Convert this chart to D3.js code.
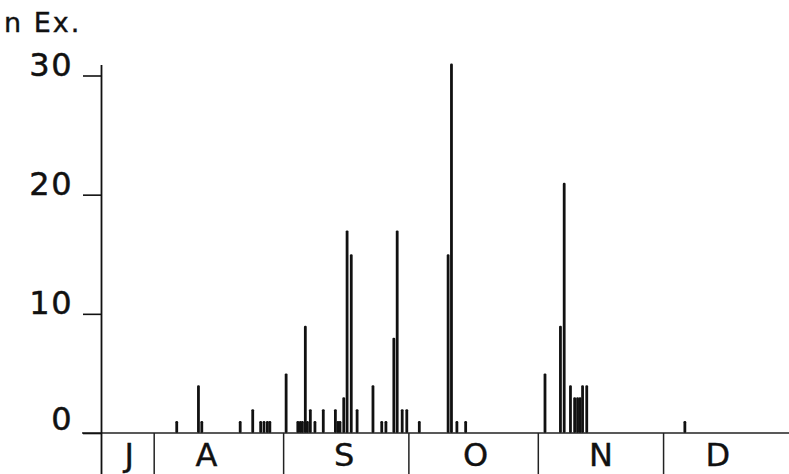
<!DOCTYPE html>
<html>
<head>
<meta charset="utf-8">
<script src="https://cdn.jsdelivr.net/npm/d3@7"></script>
<style>
  body { margin: 0; background: #fff; }
  svg { display: block; }
  text { font-family: "DejaVu Sans", sans-serif; fill: #111; }
</style>
</head>
<body>
<div class="chart"></div>
<script>
// Days counted from 1 July (1 Aug = 31, 1 Sep = 62, ...)
var catchDays = [
  36.4, 41.6, 42.4, 51.6, 54.6, 56.5, 57.3, 58.1, 58.7,
  62.6, 65.4, 66.0, 66.5, 67.2, 67.7, 68.4, 69.5, 71.5,
  74.4, 75.0, 75.5, 76.4, 77.2, 78.2, 79.6,
  83.4, 85.5, 86.5, 88.4, 89.2, 90.4, 91.5,
  94.5, 101.4, 102.2, 103.5, 105.6,
  124.6, 128.3, 129.2, 130.7, 131.7, 132.4, 133.0, 133.6, 134.6,
  158.1
];
var catchCounts = [
  1, 4, 1, 1, 2, 1, 1, 1, 1,
  5, 1, 1, 1, 9, 1, 2, 1, 2,
  2, 1, 1, 3, 17, 15, 2,
  4, 1, 1, 8, 17, 2, 2,
  1, 15, 31, 1, 1,
  5, 9, 21, 4, 3, 3, 3, 4, 4,
  1
];
var monthStarts = [31, 62, 92, 123, 153];
var monthLabels = ["J", "A", "S", "O", "N", "D"];
var monthLabelDays = [25, 43.5, 76.5, 108, 138, 166];
var yTicks = [0, 10, 20, 30];

var svgWidth = 789;
var svgHeight = 474;

var svg = d3.select(".chart")
  .append("svg")
  .attr("width", svgWidth)
  .attr("height", svgHeight);

var xScale = d3.scaleLinear().domain([18.5, 184]).range([102, 793]);
var yScale = d3.scaleLinear().domain([0, 30]).range([433, 75.5]);

var data = catchDays.map((d, i) => ({ day: d, n: catchCounts[i] }));

// bars
svg.append("g").selectAll("rect")
  .data(data)
  .enter()
  .append("rect")
  .attr("x", d => xScale(d.day) - 1.4)
  .attr("y", d => yScale(d.n))
  .attr("width", 2.8)
  .attr("height", d => yScale(0) - yScale(d.n))
  .attr("rx", 1.2)
  .attr("fill", "#111");

// baseline
svg.append("line")
  .attr("x1", 82).attr("x2", svgWidth)
  .attr("y1", yScale(0)).attr("y2", yScale(0))
  .attr("stroke", "#222").attr("stroke-width", 1.6);

// y axis
var leftAxis = d3.axisLeft(yScale)
  .tickValues(yTicks)
  .tickSize(19)
  .tickFormat("");

var yAxisGroup = svg.append("g")
  .attr("transform", `translate(${xScale.range()[0]}, 0)`)
  .call(leftAxis);
yAxisGroup.select(".domain").remove();
yAxisGroup.selectAll(".tick line").attr("stroke", "#111").attr("stroke-width", 1.6);

svg.append("line")
  .attr("x1", 101.5).attr("x2", 101.5)
  .attr("y1", 65).attr("y2", svgHeight)
  .attr("stroke", "#111").attr("stroke-width", 1.8);

svg.append("g").selectAll("text")
  .data(yTicks)
  .enter()
  .append("text")
  .attr("x", 73)
  .attr("y", d => yScale(d) - (d === 0 ? 3 : 0))
  .attr("text-anchor", "end")
  .attr("font-size", 32)
  .attr("letter-spacing", 1.5)
  .attr("stroke", "#111")
  .attr("stroke-width", 0.5)
  .text(d => d);

svg.append("text")
  .attr("x", 4)
  .attr("y", 32)
  .attr("font-size", 27)
  .attr("letter-spacing", 2)
  .attr("stroke", "#111")
  .attr("stroke-width", 0.4)
  .text("n Ex.");

// month dividers and labels
svg.append("g").selectAll("line")
  .data(monthStarts)
  .enter()
  .append("line")
  .attr("x1", d => xScale(d)).attr("x2", d => xScale(d))
  .attr("y1", yScale(0)).attr("y2", svgHeight)
  .attr("stroke", "#222").attr("stroke-width", 1.5);

svg.append("g").selectAll("text")
  .data(monthLabels)
  .enter()
  .append("text")
  .attr("x", (d, i) => xScale(monthLabelDays[i]))
  .attr("y", 466)
  .attr("text-anchor", "middle")
  .attr("font-size", 32)
  .attr("stroke", "#111")
  .attr("stroke-width", 0.4)
  .text(d => d);
</script>
</body>
</html>
